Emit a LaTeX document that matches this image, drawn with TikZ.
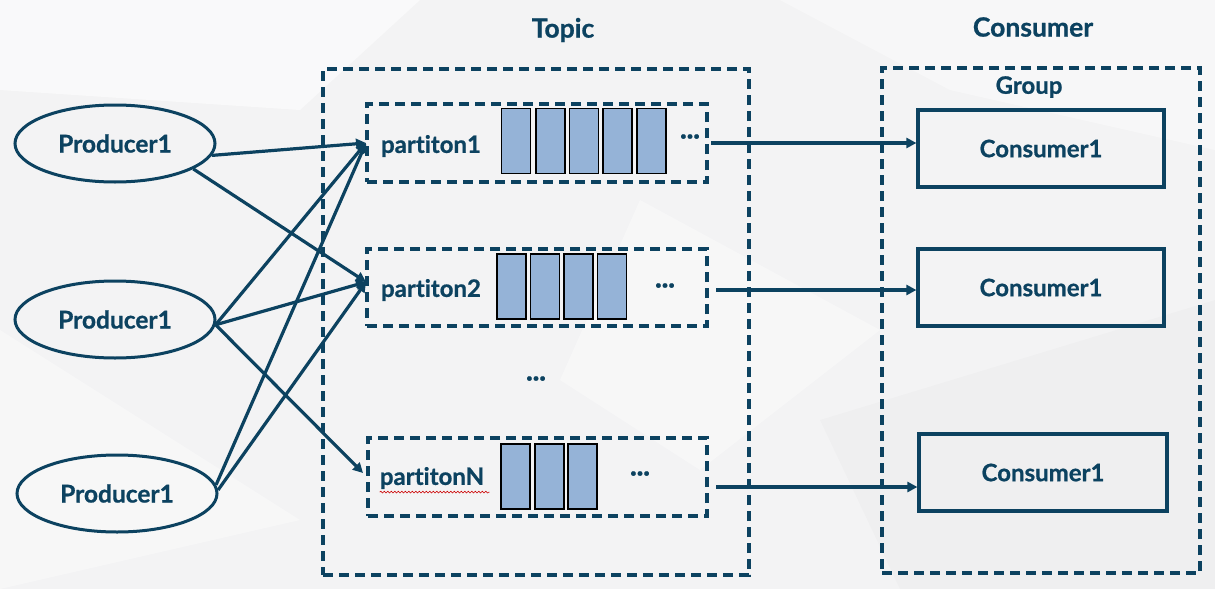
\documentclass[tikz,border=0pt]{standalone}
\usepackage{fontspec}
\setmainfont{Lato}[Ligatures=NoCommon,BoldFeatures={FakeBold=0.8}]
\usetikzlibrary{shapes.geometric,arrows.meta,decorations.pathmorphing}
\definecolor{navy}{RGB}{12,66,96}
\definecolor{cellblue}{RGB}{149,179,215}
\definecolor{bggray}{RGB}{243,243,244}
\begin{document}
\begin{tikzpicture}[x=1pt,y=-1pt,
  prod/.style={ellipse,draw=navy,line width=3pt,minimum width=200pt,minimum height=77pt,inner sep=0pt,text=navy,font=\bfseries\fontsize{24.5}{28}\selectfont},
  dbox/.style={draw=navy,line width=3.2pt,dash pattern=on 10pt off 6pt,inner sep=0pt},
  cbox/.style={draw=navy,line width=3.2pt,minimum width=246pt,minimum height=77pt,inner sep=0pt,text=navy,font=\bfseries\fontsize{24}{28}\selectfont},
  lbl/.style={text=navy,inner sep=0pt,font=\bfseries\fontsize{24}{28}\selectfont},
  ttl/.style={text=navy,inner sep=0pt,font=\bfseries\fontsize{26.5}{30}\selectfont},
  qcell/.style={draw=black,line width=1.5pt,fill=cellblue,minimum width=29pt,minimum height=65pt,inner sep=0pt},
  dots/.style={text=navy,inner sep=0pt,font=\bfseries\fontsize{24}{28}\selectfont},
  conn/.style={draw=navy,line width=3.2pt,-{Triangle[length=10pt,width=10pt]}}]
% background
\fill[bggray] (0,0) rectangle (1215,589);
\fill[white,opacity=0.55] (0,0) -- (420,0) -- (300,110) -- (0,90) -- cycle;
\fill[white,opacity=0.4] (780,0) -- (1215,0) -- (1215,150) -- (950,90) -- cycle;
\fill[white,opacity=0.35] (0,330) -- (300,520) -- (0,589) -- cycle;
\fill[white,opacity=0.35] (640,200) -- (880,330) -- (700,470) -- (560,380) -- cycle;
\fill[black,opacity=0.015] (820,420) -- (1215,300) -- (1215,589) -- (900,589) -- cycle;
\useasboundingbox (0,0) rectangle (1215,589);

% titles
\node[ttl] (ttopic) at (563,30) {Topic};
\node[ttl] (tcons) at (1033,27) {Consumer};

% outer dashed boxes
\node[dbox,minimum width=426pt,minimum height=506pt] (topic) at (536,322) {};
\node[dbox,minimum width=318pt,minimum height=505pt] (group) at (1041,320.5) {};
\node[lbl] (tgroup) at (1029,87) {Group};

% producers
\node[prod] (P1) at (115,143.5) {Producer1};
\node[prod] (P2) at (115,319.5) {Producer1};
\node[prod] (P3) at (117,493.5) {Producer1};

% partitions
\node[dbox,minimum width=340pt,minimum height=78pt] (p1) at (537,143) {};
\node[dbox,minimum width=340pt,minimum height=77pt] (p2) at (537,287.5) {};
\node[dbox,minimum width=339pt,minimum height=78pt] (pN) at (537.5,477) {};
\node[lbl] (l1) at (431,146) {partiton1};
\node[lbl] (l2) at (431,290) {partiton2};
\node[lbl] (lN) at (432,478) {partitonN};
\draw[red!80!black,line width=0.6pt,decorate,decoration={snake,amplitude=0.9pt,segment length=3.5pt}] (lN.south west) ++(0,3) -- ++(110,0);

% queue cells
\foreach \x [count=\i] in {516,550.5,584,617.5,651.5} \node[qcell] (a\i) at (\x,141) {};
\foreach \x [count=\i] in {511.5,545,578.5,612} \node[qcell] (b\i) at (\x,286.5) {};
\foreach \x [count=\i] in {515.5,549.5,582.5} \node[qcell] (c\i) at (\x,476.5) {};
\node[dots] (d1) at (690,139) {···};
\node[dots] (d2) at (665,288) {···};
\node[dots] (dN) at (640,476) {···};
\node[dots] (dmid) at (536,381) {···};

% consumers
\node[cbox] (C1) at (1041,148.5) {Consumer1};
\node[cbox] (C2) at (1041,287.5) {Consumer1};
\node[cbox,minimum width=248pt] (C3) at (1043,472.5) {Consumer1};

% producer -> partition
\coordinate (in1) at (366,143);
\coordinate (in2) at (366,282);
\coordinate (inN) at (363,473);
\draw[conn] (P1.-7) -- (in1);
\draw[conn] (P1.-18) -- (in2);
\draw[conn] (P2.-3) -- (in1);
\draw[conn] (P2.-3) -- (in2);
\draw[conn] (P2.-3) -- (inN);
\draw[conn] (P3.5) -- (in1);
\draw[conn] (P3.2) -- (in2);

% partition -> consumer
\coordinate (o1) at (711,143);
\coordinate (o2) at (716,290);
\coordinate (oN) at (716,487);
\draw[conn] (o1) -- (C1.west |- o1);
\draw[conn] (o2) -- (C2.west |- o2);
\draw[conn] (oN) -- (C3.west |- oN);
\end{tikzpicture}
\end{document}
